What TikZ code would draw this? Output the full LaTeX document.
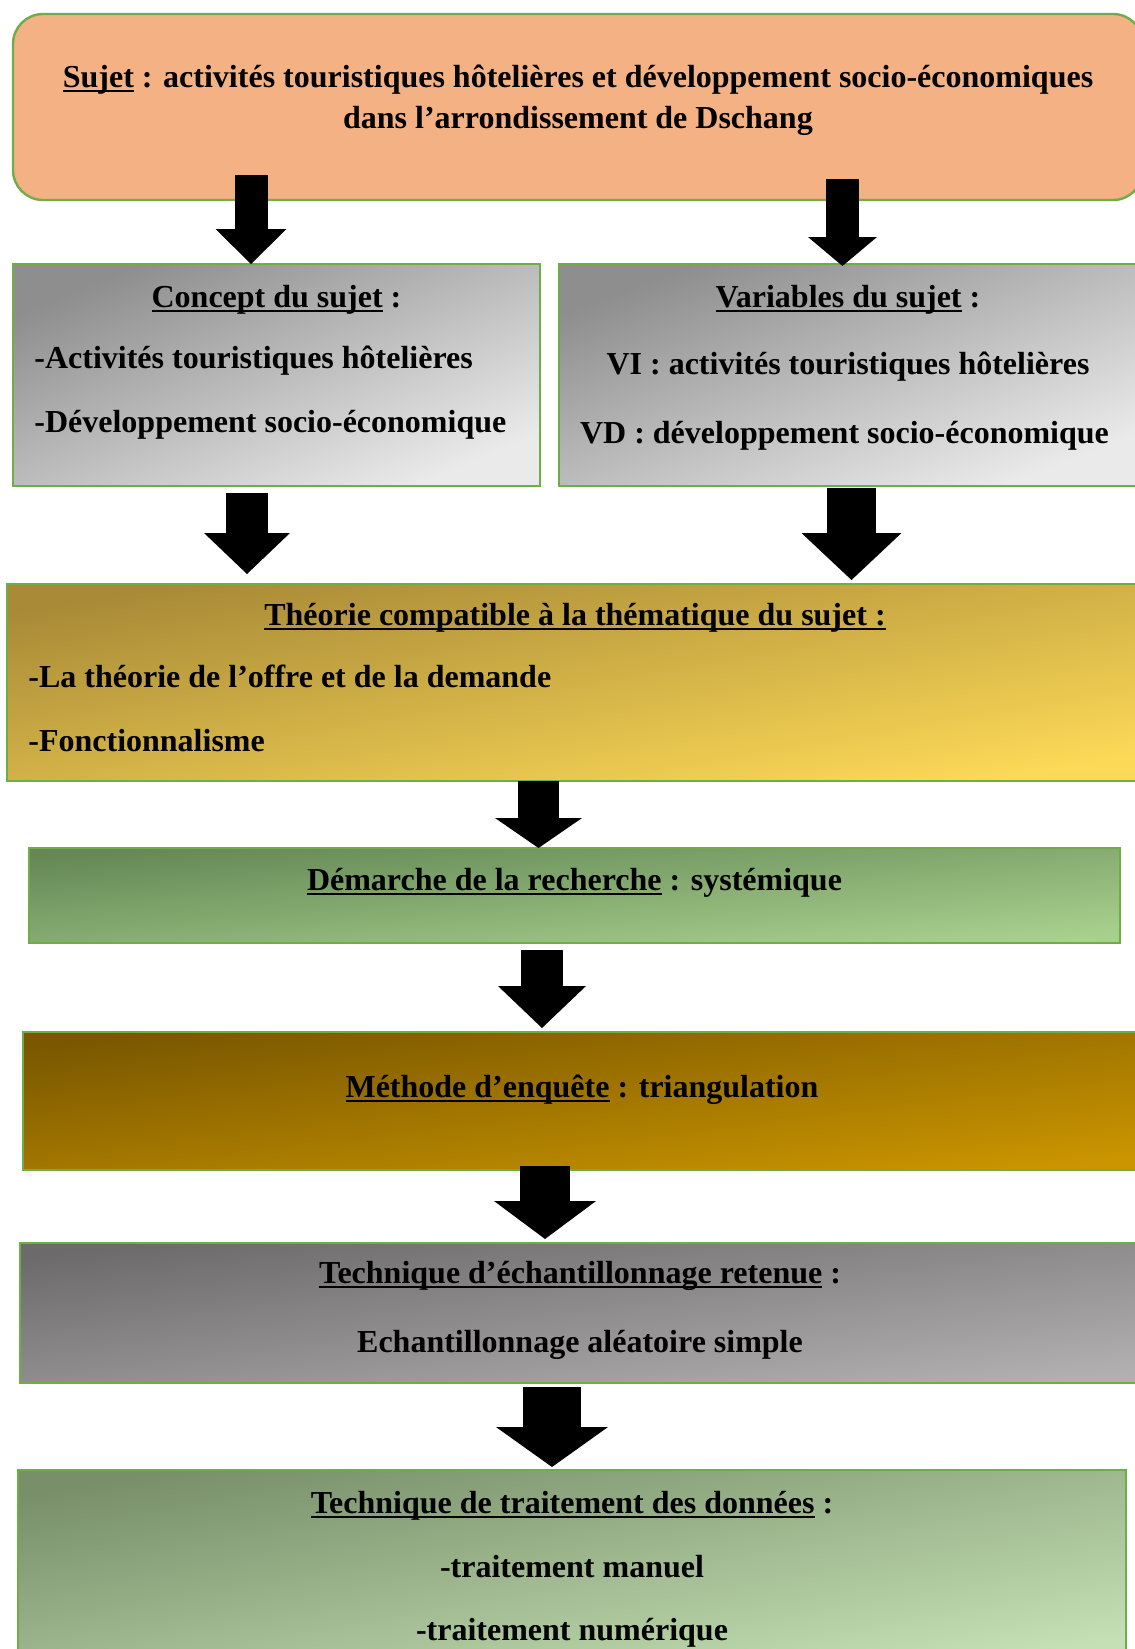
\documentclass[tikz,border=0pt]{standalone}
\usepackage{fontspec}
\setmainfont{Liberation Serif}
\usetikzlibrary{positioning,arrows.meta,shadings}

\definecolor{vert}{HTML}{70AD47}
\definecolor{saumon}{HTML}{F4B183}
\definecolor{gris1}{HTML}{8E8E8E}
\definecolor{gris2}{HTML}{EAEAEA}
\definecolor{or1}{HTML}{A88A37}
\definecolor{or2}{HTML}{FCD957}
\definecolor{vert1}{HTML}{648755}
\definecolor{vert2}{HTML}{A9D18E}
\definecolor{brun1}{HTML}{7A5700}
\definecolor{brun2}{HTML}{CA9500}
\definecolor{gris3}{HTML}{6C6A6A}
\definecolor{gris4}{HTML}{B1AFAF}
\definecolor{vert3}{HTML}{788F6A}
\definecolor{vert4}{HTML}{C5E0B4}

\newsavebox\soulbox
\newcommand\souligne[1]{\sbox\soulbox{#1}\rlap{\rule[-2.6pt]{\wd\soulbox}{1.1pt}}\usebox\soulbox}

\tikzset{
  cadre/.style 2 args={draw=vert, line width=1.2pt, inner sep=0pt, outer sep=0pt,
    minimum width=#1, minimum height=#2},
  degrade/.style n args={3}{top color=#1, bottom color=#2, shading angle=#3},
  txt/.style={anchor=base, inner sep=0pt, font=\fontsize{16pt}{19pt}\selectfont\bfseries},
  fleche/.style n args={3}{line width=#1, -{Triangle[width=#2, length=#3, line width=0pt]}},
}

\begin{document}
\begin{tikzpicture}
  \useasboundingbox (0,0) rectangle (567.5pt,-824.5pt);

  % Define nodes
  \node[cadre={565pt}{93pt}, fill=saumon, rounded corners=15pt] (sujet) at (289pt,-53.5pt) {};
  \node[cadre={263.5pt}{111pt}, degrade={gris1}{gris2}{22.8}, below=32pt of sujet.south west, anchor=north west] (concept) {};
  \node[cadre={289pt}{111pt}, degrade={gris1}{gris2}{21}, right=9.5pt of concept] (variables) {};
  \node[cadre={568pt}{98.5pt}, degrade={or1}{or2}{9.8}, below=49pt of concept.south west, anchor=north west, xshift=-3pt] (theorie) {};
  \node[cadre={545.5pt}{47.5pt}, degrade={vert1}{vert2}{5}, below=33.5pt of theorie.south west, anchor=north west, xshift=11pt] (demarche) {};
  \node[cadre={559pt}{69pt}, degrade={brun1}{brun2}{7}, below=44.5pt of demarche.south west, anchor=north west, xshift=-3pt] (methode) {};
  \node[cadre={560pt}{70pt}, degrade={gris3}{gris4}{7.1}, below=36.5pt of methode.south west, anchor=north west, xshift=-1.5pt] (echant) {};
  \node[cadre={554pt}{97pt}, degrade={vert3}{vert4}{9.9}, below=43.5pt of echant.south west, anchor=north west, xshift=-1pt] (traitement) {};

  % Texts
  \node[txt] (sujet1) at ([yshift=-36.5pt]sujet.north) {\souligne{Sujet} : activités touristiques hôtelières et développement socio-économiques};
  \node[txt] (sujet2) at ([yshift=-57pt]sujet.north) {dans l’arrondissement de Dschang};

  \node[txt] (concept1) at ([yshift=-21.5pt]concept.north) {\souligne{Concept du sujet} :};
  \node[txt, anchor=base west] (concept2) at ([xshift=10.5pt,yshift=-52pt]concept.north west) {-Activités touristiques hôtelières};
  \node[txt, anchor=base west] (concept3) at ([xshift=10.5pt,yshift=-84pt]concept.north west) {-Développement socio-économique};

  \node[txt] (var1) at ([yshift=-21.5pt]variables.north) {\souligne{Variables du sujet} :};
  \node[txt] (var2) at ([yshift=-55pt]variables.north) {VI : activités touristiques hôtelières};
  \node[txt] (var3) at ([xshift=-1.75pt,yshift=-89.5pt]variables.north) {VD : développement socio-économique};

  \node[txt] (theo1) at ([yshift=-20.5pt]theorie.north) {\souligne{Théorie compatible à la thématique du sujet :}};
  \node[txt, anchor=base west] (theo2) at ([xshift=10.5pt,yshift=-51.5pt]theorie.north west) {-La théorie de l’offre et de la demande};
  \node[txt, anchor=base west] (theo3) at ([xshift=10.5pt,yshift=-83.5pt]theorie.north west) {-Fonctionnalisme};

  \node[txt] (dem1) at ([yshift=-21pt]demarche.north) {\souligne{Démarche de la recherche} : systémique};

  \node[txt] (meth1) at ([yshift=-32.5pt]methode.north) {\souligne{Méthode d’enquête} : triangulation};

  \node[txt] (ech1) at ([yshift=-20pt]echant.north) {\souligne{Technique d’échantillonnage retenue} :};
  \node[txt] (ech2) at ([yshift=-54.5pt]echant.north) {Echantillonnage aléatoire simple};

  \node[txt] (trt1) at ([yshift=-21.5pt]traitement.north) {\souligne{Technique de traitement des données} :};
  \node[txt] (trt2) at ([yshift=-53.5pt]traitement.north) {-traitement manuel};
  \node[txt] (trt3) at ([yshift=-85pt]traitement.north) {-traitement numérique};

  % Arrows
  \draw[fleche={16.5pt}{35.5pt}{17.5pt}] ([xshift=-163.5pt,yshift=12.5pt]sujet.south) -- ([xshift=-12.75pt]concept.north);
  \draw[fleche={16.5pt}{34.5pt}{14.5pt}] ([xshift=132.25pt,yshift=10.5pt]sujet.south) -- ([xshift=-2.75pt,yshift=-1pt]variables.north);
  \draw[fleche={21pt}{43pt}{20.5pt}] ([xshift=-14.75pt,yshift=-3.5pt]concept.south) -- ([xshift=-164pt,yshift=5pt]theorie.north);
  \draw[fleche={24.5pt}{50pt}{23.5pt}] ([xshift=1.75pt,yshift=-1pt]variables.south) -- ([xshift=138.25pt,yshift=2pt]theorie.north);
  \draw[fleche={20.5pt}{43.5pt}{15pt}] ([xshift=-18.25pt]theorie.south) -- ([xshift=-18pt]demarche.north);
  \draw[fleche={21pt}{44pt}{21pt}] ([xshift=-16.25pt,yshift=-3.5pt]demarche.south) -- ([xshift=-20pt,yshift=2pt]methode.north);
  \draw[fleche={25pt}{51pt}{19pt}] ([xshift=-18.5pt,yshift=2pt]methode.south) -- ([xshift=-17.5pt,yshift=2pt]echant.north);
  \draw[fleche={29pt}{56pt}{20pt}] ([xshift=-14pt,yshift=-2pt]echant.south) -- ([xshift=-10pt,yshift=1.5pt]traitement.north);

\end{tikzpicture}
\end{document}
